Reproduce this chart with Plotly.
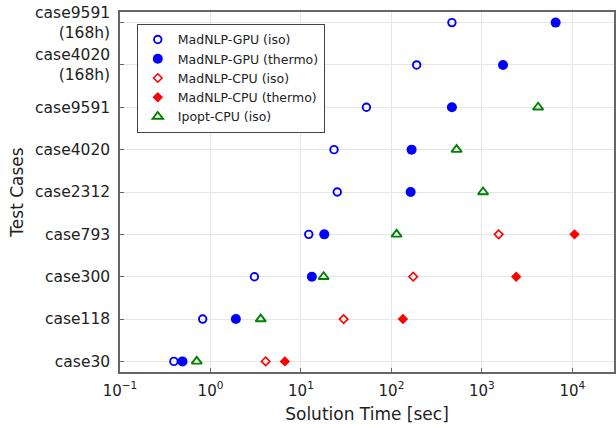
import plotly.graph_objects as go

cases = ["case30", "case118", "case300", "case793", "case2312", "case4020",
         "case9591", "case4020<br>(168h)", "case9591<br>(168h)"]

gpu_iso = [0.394, 0.82, 3.06, 12.2, 25.2, 23.2, 52.9, 190, 466]
gpu_thermo = [0.49, 1.91, 13.2, 18.1, 163, 167, 466, 1710, 6530]
cpu_iso_cases = ["case30", "case118", "case300", "case793"]
cpu_iso = [4.07, 29.6, 174, 1531]
cpu_thermo = [6.64, 134, 2393, 10560]
ipopt_cases = ["case30", "case118", "case300", "case793", "case2312", "case4020", "case9591"]
ipopt_iso = [0.705, 3.59, 17.8, 114, 1030, 525, 4180]

xtick_vals = [0.1, 1, 10, 100, 1000, 10000]
xtick_text = ["10<sup>−1</sup>", "10<sup>0</sup>", "10<sup>1</sup>", "10<sup>2</sup>",
              "10<sup>3</sup>", "10<sup>4</sup>"]

BLUE = "#0000ff"
RED = "#ff0000"
GREEN = "#008000"

fig = go.Figure()
fig.add_trace(go.Scatter(x=gpu_iso, y=cases, mode="markers", name="MadNLP-GPU (iso)",
                         marker=dict(symbol="circle-open", size=7.5, color=BLUE, line=dict(width=1.9, color=BLUE))))
fig.add_trace(go.Scatter(x=gpu_thermo, y=cases, mode="markers", name="MadNLP-GPU (thermo)",
                         marker=dict(symbol="circle", size=10, color=BLUE, line=dict(width=0))))
fig.add_trace(go.Scatter(x=cpu_iso, y=cpu_iso_cases, mode="markers", name="MadNLP-CPU (iso)",
                         marker=dict(symbol="diamond-open", size=6.5, color=RED, line=dict(width=1.6, color=RED))))
fig.add_trace(go.Scatter(x=cpu_thermo, y=cpu_iso_cases, mode="markers", name="MadNLP-CPU (thermo)",
                         marker=dict(symbol="diamond", size=8, color=RED, line=dict(width=0))))
fig.add_trace(go.Scatter(x=ipopt_iso, y=ipopt_cases, mode="markers", name="Ipopt-CPU (iso)",
                         marker=dict(symbol="triangle-up-open", size=9, color=GREEN, line=dict(width=1.9, color=GREEN))))

fig.update_layout(
    width=616, height=428,
    margin=dict(l=120, r=0, t=12, b=56),
    paper_bgcolor="white", plot_bgcolor="white",
    font=dict(family="DejaVu Sans", color="#222222"),
    showlegend=True,
    legend=dict(x=0.034, y=0.967, xanchor="left", yanchor="top",
                bgcolor="white", bordercolor="#444444", borderwidth=1,
                font=dict(size=12.5, color="#222222"), itemsizing="trace",
                tracegroupgap=0),
)
fig.update_xaxes(
    type="log", range=[-1, 4.46],
    tickvals=xtick_vals, ticktext=xtick_text,
    tickfont=dict(size=15),
    ticklabelstandoff=4,
    title=dict(text="Solution Time [sec]", font=dict(size=17), standoff=9),
    showgrid=True, gridcolor="#e6e6e6", gridwidth=1,
    showline=True, linecolor="#666666", linewidth=1.5, mirror=True,
    ticks="inside", ticklen=4, tickcolor="#666666", zeroline=False,
)
fig.update_yaxes(
    type="category", categoryorder="array", categoryarray=cases,
    range=[-0.25, 8.25],
    tickfont=dict(size=15.5),
    title=dict(text="Test Cases", font=dict(size=17), standoff=7),
    ticklabelstandoff=5,
    showgrid=True, gridcolor="#e6e6e6", gridwidth=1,
    showline=True, linecolor="#666666", linewidth=1.5, mirror=True,
    ticks="inside", ticklen=4, tickcolor="#666666", zeroline=False,
)

fig.write_html("out.html", config={"displayModeBar": False},
               post_script="document.body.style.margin='0';")
